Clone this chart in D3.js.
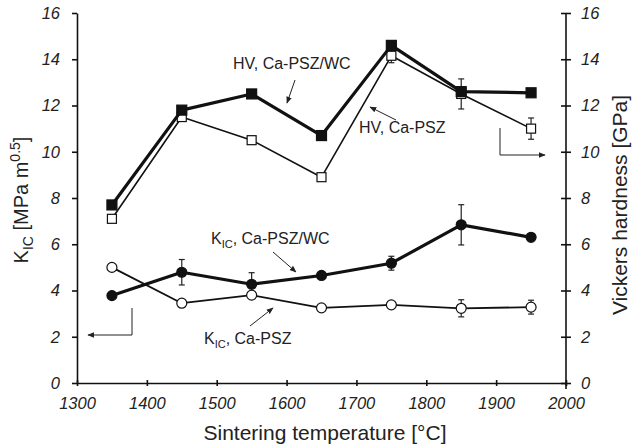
<!DOCTYPE html>
<html>
<head>
<meta charset="utf-8">
<script src="https://cdn.jsdelivr.net/npm/d3@7"></script>
<style>
  html, body { margin: 0; padding: 0; background: #fff; }
  svg { display: block; font-family: "Liberation Sans", Arial, Helvetica, sans-serif; }
  .tick text { font-style: italic; font-size: 16.5px; fill: #222; }
  .domain, .tick line { stroke: #111; stroke-width: 1.6px; }
</style>
</head>
<body>
<svg id="chart" width="634" height="448"></svg>
<script>
// Sintering temperatures (°C)
const temps = [1350, 1450, 1550, 1650, 1750, 1850, 1950];

// Vickers hardness HV (GPa)
const hvWC    = [7.7, 11.8, 12.5, 10.7, 14.6, 12.6, 12.55];
const hvWCErr = [null, null, null, null, null, null, null];
const hvPSZ    = [7.1, 11.5, 10.5, 8.9, 14.15, 12.5, 11.0];
const hvPSZErr = [null, null, null, null, 0.3, 0.65, 0.46];

// Fracture toughness KIC (MPa m^0.5)
const kicWC    = [3.78, 4.79, 4.27, 4.65, 5.18, 6.84, 6.3];
const kicWCErr = [null, 0.55, 0.5, null, 0.3, 0.87, null];
const kicPSZ    = [5.0, 3.45, 3.8, 3.25, 3.38, 3.23, 3.28];
const kicPSZErr = [null, null, null, null, null, 0.37, 0.3];

const xTicks = [1300, 1400, 1500, 1600, 1700, 1800, 1900, 2000];
const yTicks = [0, 2, 4, 6, 8, 10, 12, 14, 16];

const svg = d3.select("#chart");
const plotLeft = 77, plotRight = 566, plotTop = 13, plotBottom = 383;

const x = d3.scaleLinear().domain([1300, 2000]).range([plotLeft, plotRight]);
const yL = d3.scaleLinear().domain([0, 16]).range([plotBottom, plotTop]);
const yR = d3.scaleLinear().domain([0, 16]).range([plotBottom, plotTop]);

// arrowhead marker for the annotation pointers
const defs = svg.append("defs");
defs.append("marker")
  .attr("id", "arrow")
  .attr("viewBox", "0 0 10 10")
  .attr("refX", 9).attr("refY", 5)
  .attr("markerWidth", 7).attr("markerHeight", 7)
  .attr("markerUnits", "userSpaceOnUse")
  .attr("orient", "auto")
  .append("path")
  .attr("d", "M0,1 L10,5 L0,9 Z")
  .attr("fill", "#222");

// axes
const gx = svg.append("g").attr("transform", `translate(0,${plotBottom})`)
  .call(d3.axisBottom(x).tickValues(xTicks).tickFormat(d3.format("d"))
    .tickSizeInner(3).tickSizeOuter(0).tickPadding(11));
gx.selectAll(".tick line").attr("y1", -3);

const gyl = svg.append("g").attr("transform", `translate(${plotLeft},0)`)
  .call(d3.axisLeft(yL).tickValues(yTicks).tickSizeInner(5).tickSizeOuter(0).tickPadding(12));

const gyr = svg.append("g").attr("transform", `translate(${plotRight},0)`)
  .call(d3.axisRight(yR).tickValues(yTicks).tickSizeInner(5).tickSizeOuter(0).tickPadding(10));
gyr.selectAll(".tick line").attr("x1", -5);
gyr.select(".domain").attr("d", `M0,${plotTop}V${plotBottom + 6}`);

// series drawing helper
function drawSeries(vals, errs, scaleY, opts) {
  const pts = temps.map((t, i) => ({ t, v: vals[i], e: errs[i] }));
  const g = svg.append("g");
  g.append("path")
    .datum(pts)
    .attr("fill", "none")
    .attr("stroke", "#111")
    .attr("stroke-width", opts.lw)
    .attr("stroke-linejoin", "round")
    .attr("d", d3.line().x(d => x(d.t)).y(d => scaleY(d.v)));

  const eb = g.selectAll(".err").data(pts.filter(d => d.e != null)).join("g");
  eb.append("line")
    .attr("x1", d => x(d.t)).attr("x2", d => x(d.t))
    .attr("y1", d => scaleY(d.v + d.e)).attr("y2", d => scaleY(d.v - d.e))
    .attr("stroke", "#222").attr("stroke-width", 1.2);
  [1, -1].forEach(s => {
    eb.append("line")
      .attr("x1", d => x(d.t) - 3).attr("x2", d => x(d.t) + 3)
      .attr("y1", d => scaleY(d.v + s * d.e)).attr("y2", d => scaleY(d.v + s * d.e))
      .attr("stroke", "#222").attr("stroke-width", 1.2);
  });

  if (opts.shape === "square") {
    const s = opts.size;
    g.selectAll(".m").data(pts).join("rect")
      .attr("x", d => x(d.t) - s / 2).attr("y", d => scaleY(d.v) - s / 2)
      .attr("width", s).attr("height", s)
      .attr("fill", opts.fill).attr("stroke", "#111").attr("stroke-width", 1.2);
  } else {
    g.selectAll(".m").data(pts).join("circle")
      .attr("cx", d => x(d.t)).attr("cy", d => scaleY(d.v))
      .attr("r", opts.size / 2)
      .attr("fill", opts.fill).attr("stroke", "#111").attr("stroke-width", 1.2);
  }
}

drawSeries(hvPSZ, hvPSZErr, yR, { lw: 1.6, shape: "square", size: 9, fill: "#fff" });
drawSeries(hvWC, hvWCErr, yR, { lw: 3.2, shape: "square", size: 10, fill: "#111" });
drawSeries(kicWC, kicWCErr, yL, { lw: 3.2, shape: "circle", size: 10, fill: "#111" });
drawSeries(kicPSZ, kicPSZErr, yL, { lw: 1.8, shape: "circle", size: 10, fill: "#fff" });

// annotations
const ann = svg.append("g").attr("font-size", 16).attr("fill", "#222");
ann.append("text").attr("x", 233).attr("y", 69).text("HV, Ca-PSZ/WC");
ann.append("text").attr("x", 359).attr("y", 133).text("HV, Ca-PSZ");

const kWC = ann.append("text").attr("x", 211).attr("y", 244);
kWC.append("tspan").text("K");
kWC.append("tspan").attr("dy", 4).attr("font-size", 11).text("IC");
kWC.append("tspan").attr("dy", -4).text(", Ca-PSZ/WC");

const kPSZ = ann.append("text").attr("x", 204).attr("y", 344);
kPSZ.append("tspan").text("K");
kPSZ.append("tspan").attr("dy", 4).attr("font-size", 11).text("IC");
kPSZ.append("tspan").attr("dy", -4).text(", Ca-PSZ");

const pointer = (pts) => svg.append("path")
  .attr("d", d3.line()(pts))
  .attr("fill", "none").attr("stroke", "#222").attr("stroke-width", 1)
  .attr("marker-end", "url(#arrow)");

pointer([[295, 80], [287, 103]]);
pointer([[396, 120], [370, 107]]);
pointer([[273, 252], [296, 272]]);
pointer([[250, 326], [273, 308]]);
// brackets pointing to the relevant axis
pointer([[500, 128], [500, 155], [545, 155]]);
pointer([[132, 308], [132, 335], [88, 335]]);

// axis titles
svg.append("text")
  .attr("x", 325).attr("y", 440)
  .attr("text-anchor", "middle").attr("font-size", 21).attr("fill", "#222")
  .text("Sintering temperature [°C]");

const yl = svg.append("text")
  .attr("transform", "translate(28,200) rotate(-90)")
  .attr("text-anchor", "middle").attr("font-size", 20).attr("fill", "#222");
yl.append("tspan").text("K");
yl.append("tspan").attr("dy", 5).attr("font-size", 14).text("IC");
yl.append("tspan").attr("dy", -5).text(" [MPa m");
yl.append("tspan").attr("dy", -8).attr("font-size", 14).text("0.5");
yl.append("tspan").attr("dy", 8).text("]");

svg.append("text")
  .attr("transform", "translate(627,205) rotate(-90)")
  .attr("text-anchor", "middle").attr("font-size", 21).attr("fill", "#222")
  .text("Vickers hardness [GPa]");
</script>
</body>
</html>
